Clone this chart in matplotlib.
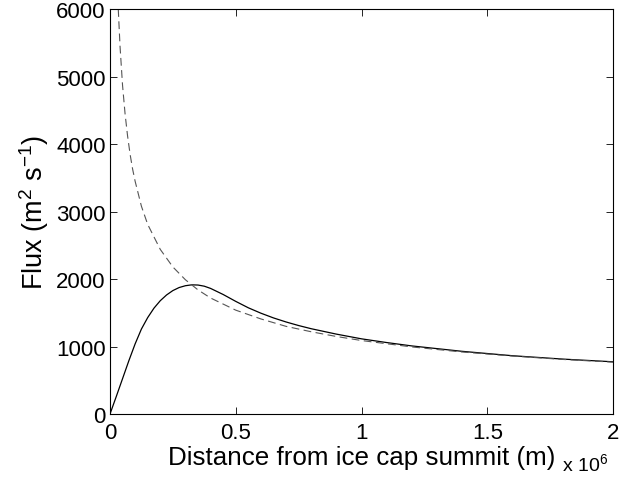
import matplotlib
matplotlib.use('Agg')
import matplotlib.pyplot as plt
import numpy as np

# Distance from summit, in units of 1e6 m
x_solid = [0.0, 0.025, 0.05, 0.075, 0.1, 0.125, 0.15, 0.175, 0.2, 0.225, 0.25, 0.275,
           0.3, 0.325, 0.35, 0.375, 0.4, 0.45, 0.5, 0.55, 0.6, 0.65, 0.7, 0.75, 0.8,
           0.9, 1.0, 1.1, 1.2, 1.4, 1.6, 1.8, 2.0]
flux_solid = [0, 260, 525, 790, 1040, 1260, 1430, 1570, 1680, 1765, 1830, 1875,
              1902, 1915, 1912, 1895, 1862, 1772, 1670, 1575, 1495, 1425, 1365, 1312, 1265,
              1185, 1115, 1060, 1010, 930, 865, 815, 775]

x_dashed = [0.033, 0.04, 0.05, 0.06, 0.07, 0.08, 0.09, 0.1, 0.125, 0.15, 0.2, 0.25, 0.3,
            0.35, 0.4, 0.5, 0.6, 0.7, 0.8, 0.9, 1.0, 1.2, 1.4, 1.6, 1.8, 2.0]
flux_dashed = [6000, 5450, 4870, 4450, 4120, 3850, 3630, 3450, 3080, 2810, 2440, 2180, 1990,
               1840, 1720, 1540, 1410, 1300, 1220, 1150, 1090, 995, 920, 860, 810, 770]

x_ticks = [0, 0.5, 1, 1.5, 2]
x_tick_labels = ['0', '0.5', '1', '1.5', '2']
y_ticks = [0, 1000, 2000, 3000, 4000, 5000, 6000]

plt.rcParams['font.family'] = ['Liberation Sans', 'DejaVu Sans']
plt.rcParams['mathtext.fontset'] = 'custom'
plt.rcParams['mathtext.rm'] = 'Liberation Sans'
plt.rcParams['mathtext.it'] = 'Liberation Sans'

fig = plt.figure(figsize=(6.32, 4.81), dpi=100)
ax = fig.add_axes([0.174, 0.137, 0.796, 0.842])

ax.plot(x_solid, flux_solid, color='black', linewidth=0.9)
ax.plot(x_dashed, flux_dashed, color='#555555', linewidth=0.8, linestyle=(0, (7, 4)))

ax.set_xlim(0, 2)
ax.set_ylim(0, 6000)
ax.set_xticks(x_ticks)
ax.set_xticklabels(x_tick_labels)
ax.set_yticks(y_ticks)
ax.tick_params(direction='in', top=True, right=True, length=5, width=0.6,
               labelsize=16)
ax.tick_params(axis='x', pad=6)
ax.tick_params(axis='y', pad=3)
for s in ax.spines.values():
    s.set_linewidth(0.8)

ax.set_xlabel('Distance from ice cap summit (m)', fontsize=18.7, labelpad=1)
ax.set_ylabel('Flux (m$^2$ s$^{-1}$)', fontsize=19.5, labelpad=4)
fig.text(0.89, 0.012, 'x 10$^6$', fontsize=14, ha='left', va='bottom')

fig.savefig('out.png', dpi=100)
